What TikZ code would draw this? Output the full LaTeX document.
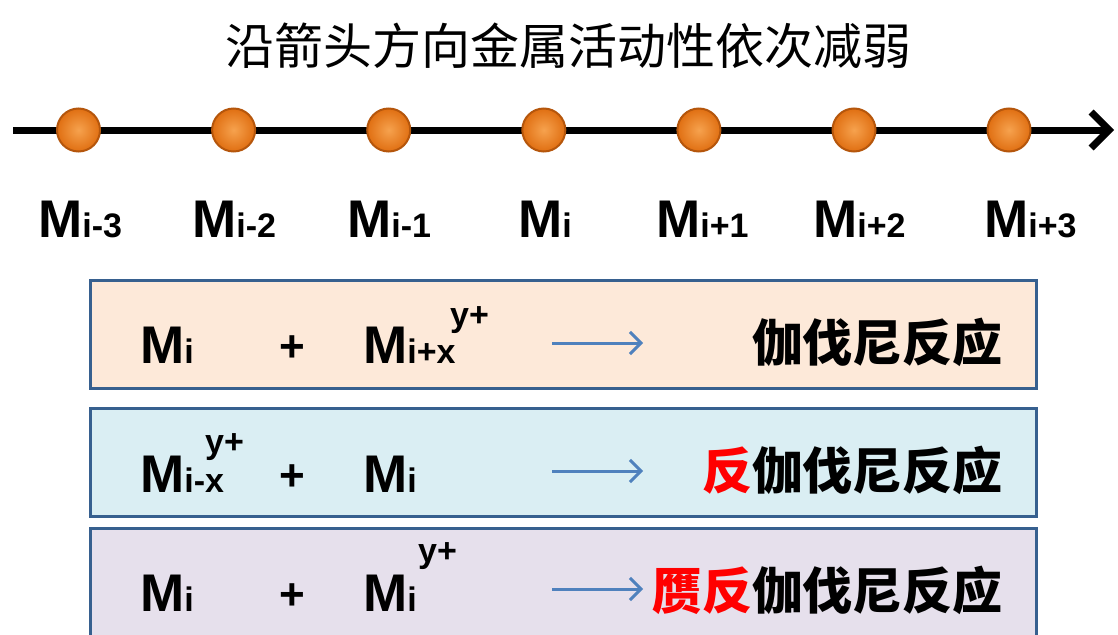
\documentclass[tikz,border=0pt]{standalone}
\usepackage{fontspec}
\setmainfont{Liberation Sans}
\newfontfamily\cjk{Noto Sans CJK SC}
\usetikzlibrary{arrows.meta}
\definecolor{peach}{HTML}{FDE9D9}
\definecolor{lblue}{HTML}{DAEEF3}
\definecolor{lav}{HTML}{E6E0EC}
\definecolor{boxline}{HTML}{37608F}
\definecolor{arrblue}{HTML}{4F81BD}
\definecolor{ballin}{HTML}{F6A24E}
\definecolor{ballout}{HTML}{E06F12}
\definecolor{ballrim}{HTML}{B5560C}
\newcommand\Msub[1]{{\fontsize{53}{53}\selectfont M\fontsize{34}{34}\selectfont #1}}
\begin{document}
\begin{tikzpicture}[x=1pt,y=-1pt,
  lbl/.style={inner sep=0pt, anchor=base west, font=\bfseries},
  sup/.style={inner sep=0pt, anchor=base west, font=\bfseries\fontsize{34}{34}\selectfont},
  plus/.style={inner sep=0pt, anchor=base, font=\bfseries\fontsize{44}{44}\selectfont},
  ball/.style={circle, minimum size=43pt, inner sep=0pt, draw=ballrim, line width=2pt,
    inner color=ballin, outer color=ballout},
  axis/.style={line width=7pt, -{Straight Barb[length=18pt,width=36pt]}},
  rbox/.style={draw=boxline, line width=3pt, minimum width=946pt, minimum height=108pt, inner sep=0pt},
  rarrow/.style={draw=arrblue, line width=3pt, -{Straight Barb[length=11pt,width=22pt]}},
  cjkb/.style={inner sep=0pt, anchor=base east, font=\cjk\bfseries\fontsize{50}{50}\selectfont}
]
\useasboundingbox (0,0) rectangle (1118,634);
\clip (0,0) rectangle (1118,634);
\fill[white] (0,0) rectangle (1118,634);

% title
\node[inner sep=0pt, anchor=base, font=\cjk\fontsize{49}{49}\selectfont] (title) at (568,64) {沿箭头方向金属活动性依次减弱};

% axis
\coordinate (a0) at (13,130);
\coordinate (a1) at (1114,130);
\draw[axis] (a0) -- (a1);
\foreach \k/\x in {1/78.5,2/233.6,3/388.7,4/543.8,5/698.9,6/854,7/1009}
  \node[ball] (b\k) at (\x,130) {};

% labels
\node[lbl] (l1) at (38,237) {\Msub{i-3}};
\node[lbl] (l2) at (192,237) {\Msub{i-2}};
\node[lbl] (l3) at (347,237) {\Msub{i-1}};
\node[lbl] (l4) at (518,237) {\Msub{i}};
\node[lbl] (l5) at (656,237) {\Msub{i+1}};
\node[lbl] (l6) at (813,237) {\Msub{i+2}};
\node[lbl] (l7) at (984,237) {\Msub{i+3}};

% boxes
\node[rbox, fill=peach] (box1) at (563,334) {};
\node[rbox, fill=lblue] (box2) at (563,462) {};
\node[rbox, fill=lav] (box3) at (563,582) {};

% row 1
\node[lbl] (r1a) at (140,363) {\Msub{i}};
\node[plus] (r1p) at (292,361) {+};
\node[lbl] (r1b) at (363,363) {\Msub{i+x}};
\node[sup] (r1s) at (450,326) {y+};
\coordinate (s1) at (552,343);
\coordinate (e1) at (643,343);
\draw[rarrow] (s1) -- (e1);
\node[cjkb] (t1) at (1003,361) {伽伐尼反应};

% row 2
\node[lbl] (r2a) at (140,492) {\Msub{i-x}};
\node[sup] (r2s) at (205,453) {y+};
\node[plus] (r2p) at (292,490) {+};
\node[lbl] (r2b) at (363,492) {\Msub{i}};
\coordinate (s2) at (552,471);
\coordinate (e2) at (643,471);
\draw[rarrow] (s2) -- (e2);
\node[cjkb] (t2) at (1003,489) {{\color{red}反}伽伐尼反应};

% row 3
\node[lbl] (r3a) at (140,611) {\Msub{i}};
\node[plus] (r3p) at (292,609) {+};
\node[lbl] (r3b) at (363,611) {\Msub{i}};
\node[sup] (r3s) at (418,562) {y+};
\coordinate (s3) at (552,589);
\coordinate (e3) at (643,589);
\draw[rarrow] (s3) -- (e3);
\node[cjkb] (t3) at (1003,609) {{\color{red}赝反}伽伐尼反应};
\end{tikzpicture}
\end{document}
